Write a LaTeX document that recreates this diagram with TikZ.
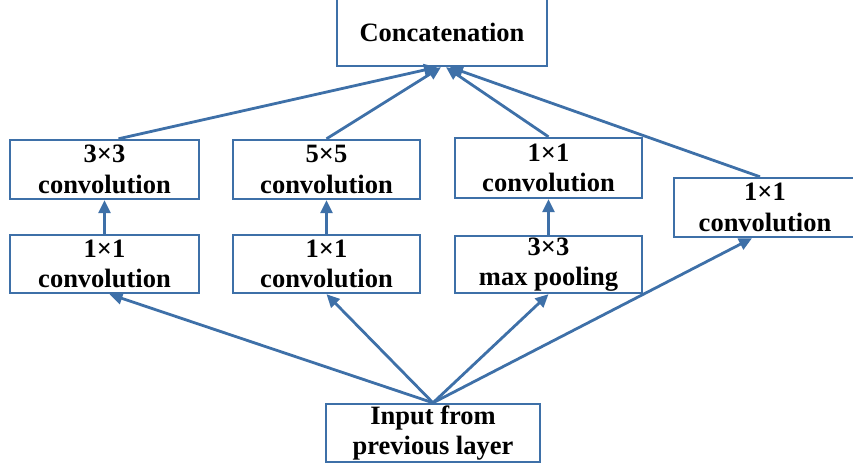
\documentclass[tikz,border=0pt]{standalone}
\usepackage{fontspec}
\setmainfont{Liberation Serif}
\usetikzlibrary{arrows.meta,calc}
\definecolor{lblue}{RGB}{62,112,168}
\begin{document}
\begin{tikzpicture}[x=1pt,y=-1pt,
  box/.style={draw=lblue,line width=2.4pt,fill=white,inner sep=0pt,align=center,
     font=\fontsize{26.5}{30.5}\selectfont\bfseries},
  arr/.style={draw=lblue,line width=2.8pt,-{Triangle[length=13pt,width=12pt]}}]
\useasboundingbox (0,0) rectangle (853,465);
\clip (0,0) rectangle (853,465);
\node[box,minimum width=210pt,minimum height=68pt] (cat) at (442,32) {\raisebox{-3pt}{Concatenation}};
\node[box,minimum width=189pt,minimum height=59pt] (a2) at (104.5,169.5) {3×3\\convolution};
\node[box,minimum width=189pt,minimum height=58pt] (a1) at (104.5,264) {1×1\\convolution};
\node[box,minimum width=187pt,minimum height=59pt] (b2) at (326.5,169.5) {5×5\\convolution};
\node[box,minimum width=187pt,minimum height=58pt] (b1) at (326.5,264) {1×1\\convolution};
\node[box,minimum width=187pt,minimum height=60pt] (c2) at (548.5,168) {1×1\\convolution};
\node[box,minimum width=187pt,minimum height=57pt] (c1) at (548.5,264.5) {3×3\\max pooling};
\node[box,minimum width=182pt,minimum height=59pt] (d1) at (765,207.5) {1×1\\convolution};
\node[box,minimum width=214pt,minimum height=58pt] (in) at (433,433) {Input from\\previous layer};
% lower arrows
\draw[arr] (in.north) -- ($(a1.south)+(5,0)$);
\draw[arr] (in.north) -- (b1.south);
\draw[arr] (in.north) -- (c1.south);
\draw[arr] (in.north) -- ($(d1.south)+(-13,0)$);
% vertical arrows
\draw[arr] (a1.north) -- (a2.south);
\draw[arr] (b1.north) -- (b2.south);
\draw[arr] (c1.north) -- (c2.south);
% upper arrows
\draw[arr] ($(a2.north)+(14,0)$) -- ($(cat.south)+(-5,0)$);
\draw[arr] (b2.north) -- ($(cat.south)+(-1,0)$);
\draw[arr] (c2.north) -- ($(cat.south)+(4,0)$);
\draw[arr] ($(d1.north)+(-5,0)$) -- ($(cat.south)+(8,0)$);
\end{tikzpicture}
\end{document}
